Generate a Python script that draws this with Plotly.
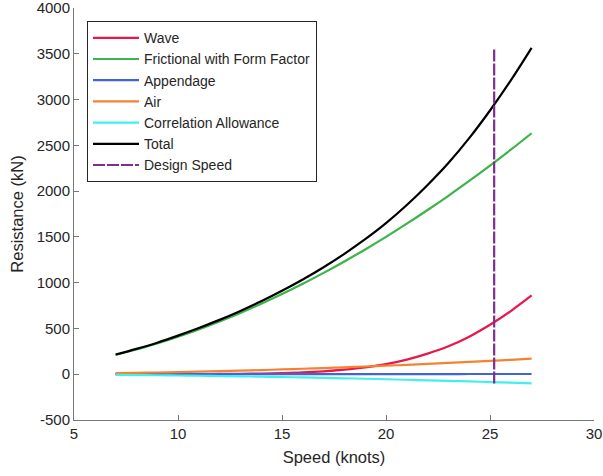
import plotly.graph_objects as go

speed = [7, 8, 9, 10, 11, 12, 13, 14, 15, 16, 17, 18, 19, 20, 21, 22, 23, 24, 25, 26, 27]
wave = [0, 0, 0, 1, 2, 3, 5, 8, 13, 20, 32, 50, 75, 110, 160, 225, 305, 410, 540, 690, 860]
frictional = [210, 270, 336, 410, 490, 576, 669, 769, 875, 988, 1107, 1232, 1363, 1500,
              1644, 1794, 1949, 2111, 2278, 2452, 2632]
appendage = [0.5, 0.6, 0.7, 0.8, 0.9, 1.0, 1.1, 1.2, 1.3, 1.4, 1.5, 1.6, 1.7, 1.8, 1.9,
             2.0, 2.1, 2.2, 2.3, 2.4, 2.5]
air = [11.4, 14.9, 18.9, 23.3, 28.2, 33.6, 39.4, 45.7, 52.5, 59.7, 67.4, 75.6, 84.2, 93.3,
       102.8, 112.9, 123.4, 134.3, 145.7, 157.6, 170]
correlation = [-6.7, -8.8, -11.1, -13.7, -16.6, -19.8, -23.2, -26.9, -30.9, -35.1, -39.6,
               -44.4, -49.5, -54.9, -60.5, -66.4, -72.6, -79.0, -85.7, -92.7, -100]
total = [w + f + a + r + c for w, f, a, r, c in zip(wave, frictional, appendage, air, correlation)]
design_speed = 25.2

x_ticks = [5, 10, 15, 20, 25, 30]
y_ticks = [-500, 0, 500, 1000, 1500, 2000, 2500, 3000, 3500, 4000]
y_tick_labels = ["-500", "0", "500", "1000", "1500", "2000", "2500", "3000", "3500", "4000"]

series = [
    ("Wave", wave, "#E8174A"),
    ("Frictional with Form Factor", frictional, "#3CB44B"),
    ("Appendage", appendage, "#4363D8"),
    ("Air", air, "#F58231"),
    ("Correlation Allowance", correlation, "#42EFEF"),
    ("Total", total, "#000000"),
]

fig = go.Figure()
for name, vals, col in series:
    fig.add_trace(go.Scatter(x=speed, y=vals, mode="lines", name=name,
                             line=dict(color=col, width=2.2, shape="spline", smoothing=1)))
fig.add_trace(go.Scatter(x=[design_speed, design_speed], y=[min(correlation), max(total)],
                         mode="lines", name="Design Speed",
                         line=dict(color="#7E2F8E", width=2.2, dash="12px,2px")))

font = "Liberation Sans, Arial, sans-serif"
axis_common = dict(showgrid=False, zeroline=False, showline=True, linecolor="#777777",
                   linewidth=1, ticks="inside", ticklen=5, tickcolor="#777777",
                   tickfont=dict(family=font, size=15, color="#262626"), mirror=False,
                   automargin=False, ticklabeloverflow="allow")

fig.update_layout(
    width=603, height=476,
    margin=dict(l=74, r=9, t=8, b=56),
    paper_bgcolor="white", plot_bgcolor="white",
    font=dict(family=font, color="#262626"),
    xaxis=dict(range=[5, 30], tickvals=x_ticks,
               title=dict(text="Speed (knots)", font=dict(family=font, size=16.5, color="#262626"), standoff=10),
               **axis_common),
    yaxis=dict(range=[-500, 4000], tickvals=y_ticks, ticktext=y_tick_labels,
               title=dict(text="Resistance (kN)", font=dict(family=font, size=16.5, color="#262626"), standoff=8),
               **axis_common),
    legend=dict(x=0.025, y=0.968, xanchor="left", yanchor="top",
                bgcolor="white", bordercolor="#262626", borderwidth=1, itemwidth=46,
                font=dict(family=font, size=14, color="#262626"), tracegroupgap=0),
    showlegend=True,
)

fig.write_html("out.html")
